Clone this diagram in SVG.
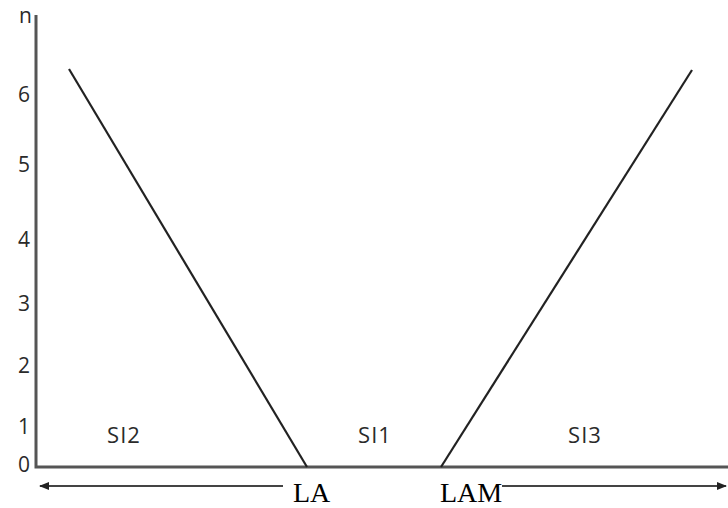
<svg xmlns="http://www.w3.org/2000/svg" width="728" height="508" viewBox="0 0 728 508">
<style>
.t{font-family:"Open Sans","Liberation Sans",sans-serif;font-size:21px;fill:#2a2a2a}
.s{font-family:"Open Sans","Liberation Sans",sans-serif;font-size:22px;letter-spacing:1px;fill:#2a2a2a}
.m{font-family:"Liberation Serif",serif;font-size:28px;fill:#000}
.ax{stroke:#555;stroke-width:3;fill:none}
.ln{stroke:#222;stroke-width:2.2;fill:none}
</style>
<defs>
<marker id="ah" viewBox="0 0 10 10" refX="9" refY="5" markerWidth="5" markerHeight="5" orient="auto-start-reverse">
<path d="M0,1 L10,5 L0,9 Z" fill="#222"/>
</marker>
</defs>
<rect width="728" height="508" fill="#fff"/>
<g id="axes">
<path class="ax" d="M36,15 V467 H728"/>
</g>
<g id="ticks">
<text class="t" x="32" y="23" text-anchor="end">n</text>
<text class="t" x="30" y="102" text-anchor="end">6</text>
<text class="t" x="30" y="172" text-anchor="end">5</text>
<text class="t" x="30" y="247" text-anchor="end">4</text>
<text class="t" x="30" y="311" text-anchor="end">3</text>
<text class="t" x="30" y="373" text-anchor="end">2</text>
<text class="t" x="30" y="434" text-anchor="end">1</text>
<text class="t" x="30" y="472" text-anchor="end">0</text>
</g>
<g id="connectors">
<line class="ln" x1="69" y1="69" x2="307" y2="467"/>
<line class="ln" x1="692" y1="70" x2="441" y2="467"/>
<line stroke="#444" stroke-width="2" x1="283" y1="486" x2="40" y2="486" marker-end="url(#ah)"/>
<line stroke="#444" stroke-width="2" x1="502" y1="486" x2="726" y2="486" marker-end="url(#ah)"/>
</g>
<g id="regions">
<text class="s" x="124" y="443" text-anchor="middle">SI2</text>
<text class="s" x="375" y="443" text-anchor="middle">SI1</text>
<text class="s" x="585" y="443" text-anchor="middle">SI3</text>
</g>
<g id="labels">
<text class="m" x="293" y="502">LA</text>
<text class="m" x="440" y="502">LAM</text>
</g>
</svg>
